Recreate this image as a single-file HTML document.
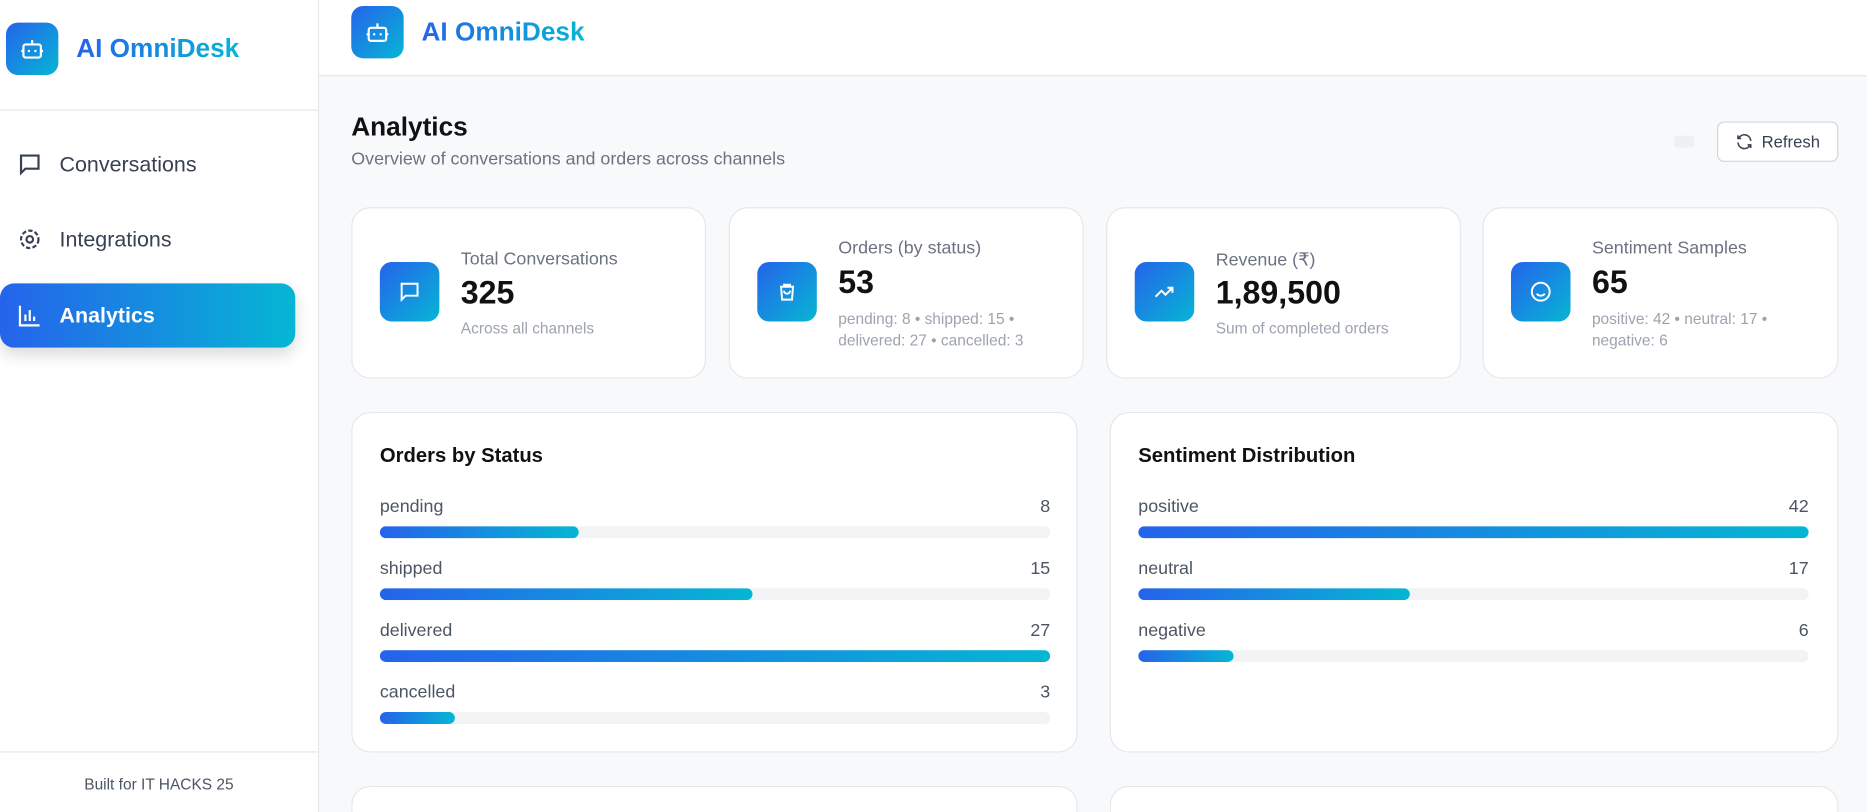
<!DOCTYPE html>
<html><head><meta charset="utf-8">
<style>
*{box-sizing:border-box;margin:0;padding:0}
html,body{width:1867px;height:812px;overflow:hidden;background:#f8f9fb;font-family:"Liberation Sans",sans-serif}
#wrap{position:absolute;left:0;top:0;width:1568px;height:682px;overflow:hidden;transform:scale(1.19069);transform-origin:0 0;background:#f8f9fb}
.abs{position:absolute}
.grad{background:linear-gradient(90deg,#2563eb,#06b6d4)}
.gtext{background:linear-gradient(90deg,#2563eb,#06b6d4);-webkit-background-clip:text;background-clip:text;color:transparent;font-weight:bold;font-size:22px}
.logo{width:44px;height:44px;border-radius:10px;background:linear-gradient(135deg,#2563eb,#06b6d4);display:flex;align-items:center;justify-content:center}
.nav{position:absolute;left:0;width:248px;height:54px;display:flex;align-items:center;font-size:18px;color:#374151}
.nav svg{margin:0 14px 0 14px}
.card{position:absolute;background:#fff;border:1px solid #e5e7eb;border-radius:16px}
.sicon{position:absolute;left:23px;top:45px;width:50px;height:50px;border-radius:10px;background:linear-gradient(135deg,#2563eb,#06b6d4);display:flex;align-items:center;justify-content:center}
.lab{position:absolute;left:91px;font-size:15px;color:#6b7280}
.val{position:absolute;left:91px;font-size:27px;font-weight:bold;color:#111}
.sub{position:absolute;left:91px;font-size:13px;color:#9ca3af;line-height:18px}
.ctitle{position:absolute;left:23px;top:26px;font-size:17px;font-weight:bold;color:#111}
.row{position:absolute;left:23px;width:563px;height:40px}
.row .rl{position:absolute;left:0;top:0;font-size:15px;color:#4b5563}
.row .rv{position:absolute;right:0;top:0;font-size:15px;color:#4b5563}
.row .track{position:absolute;left:0;top:25px;width:100%;height:10px;border-radius:5px;background:#f1f3f5;overflow:hidden}
.row .fill{height:100%;border-radius:5px;background:linear-gradient(90deg,#2563eb,#06b6d4)}
</style></head><body>
<div id="wrap">
<div class="abs" style="left:0;top:0;width:268px;height:682px;background:#fff;border-right:1px solid #e5e7eb">
  <div class="abs logo" style="left:5px;top:19px"><svg width="22" height="22" viewBox="0 0 24 24" fill="none" stroke="#fff" stroke-width="2"><rect x="4" y="8" width="16" height="12" rx="2"/><path d="M12 8V4M9 13v2M15 13v2M2 14h2M20 14h2"/></svg></div>
  <div class="abs gtext" style="left:64px;top:28px">AI OmniDesk</div>
  <div class="abs" style="left:0;top:92px;width:267px;height:1px;background:#e5e7eb"></div>
  <div class="nav" style="top:111px"><svg width="22" height="22" viewBox="0 0 24 24" fill="none" stroke="#374151" stroke-width="2"><path d="M4 4h16v12H8l-4 4z"/></svg>Conversations</div>
  <div class="nav" style="top:174px"><svg width="22" height="22" viewBox="0 0 24 24" fill="none" stroke="#374151" stroke-width="2"><circle cx="12" cy="12" r="3"/><circle cx="12" cy="12" r="8" stroke-dasharray="4 2"/></svg>Integrations</div>
  <div class="nav grad" style="top:238px;color:#fff;font-weight:bold;border-radius:12px;box-shadow:0 6px 14px rgba(0,0,0,.15)"><svg width="22" height="22" viewBox="0 0 24 24" fill="none" stroke="#fff" stroke-width="2"><path d="M3 3v18h18M8 17v-6M12 17V7M16 17v-4"/></svg>Analytics</div>
  <div class="abs" style="left:0;top:631px;width:267px;height:1px;background:#e5e7eb"></div>
  <div class="abs" style="left:0;top:651px;width:267px;text-align:center;font-size:13px;color:#4b5563">Built for IT HACKS 25</div>
</div>
<div class="abs" style="left:268px;top:0;width:1300px;height:64px;background:#fff;border-bottom:1px solid #e5e7eb">
  <div class="abs logo" style="left:27px;top:5px"><svg width="22" height="22" viewBox="0 0 24 24" fill="none" stroke="#fff" stroke-width="2"><rect x="4" y="8" width="16" height="12" rx="2"/><path d="M12 8V4M9 13v2M15 13v2M2 14h2M20 14h2"/></svg></div>
  <div class="abs gtext" style="left:86px;top:14px">AI OmniDesk</div>
</div>
<div class="abs" style="left:295px;top:94px;font-size:22px;font-weight:bold;color:#111">Analytics</div>
<div class="abs" style="left:295px;top:125px;font-size:15px;color:#6b7280">Overview of conversations and orders across channels</div>
<div class="abs" style="left:1406px;top:114px;width:17px;height:10px;background:#eef0f3;border-radius:3px"></div>
<div class="abs" style="left:1442px;top:102px;width:102px;height:34px;background:#fff;border:1px solid #d1d5db;border-radius:6px;display:flex;align-items:center;justify-content:center;font-size:14px;color:#374151"><svg width="16" height="16" viewBox="0 0 24 24" fill="none" stroke="#374151" stroke-width="2" style="margin-right:6px"><path d="M20 11a8 8 0 0 0-14-5l-2 2M4 4v4h4M4 13a8 8 0 0 0 14 5l2-2M20 20v-4h-4"/></svg>Refresh</div>

<div class="card" style="left:295px;top:174px;width:298px;height:144px">
  <div class="sicon"><svg width="20" height="20" viewBox="0 0 24 24" fill="none" stroke="#fff" stroke-width="2"><path d="M4 4h16v12H8l-4 4z"/></svg></div>
  <div class="lab" style="top:34px">Total Conversations</div><div class="val" style="top:56px">325</div><div class="sub" style="top:92px">Across all channels</div>
</div>
<div class="card" style="left:612px;top:174px;width:298px;height:144px">
  <div class="sicon"><svg width="20" height="20" viewBox="0 0 24 24" fill="none" stroke="#fff" stroke-width="2"><path d="M6 7h12l-1 13H7zM9 7V5h6v2M9 11a3 3 0 0 0 6 0"/></svg></div>
  <div class="lab" style="top:25px">Orders (by status)</div><div class="val" style="top:47px">53</div><div class="sub" style="top:84px">pending: 8 • shipped: 15 •<br>delivered: 27 • cancelled: 3</div>
</div>
<div class="card" style="left:929px;top:174px;width:298px;height:144px">
  <div class="sicon"><svg width="20" height="20" viewBox="0 0 24 24" fill="none" stroke="#fff" stroke-width="2"><path d="M3 17l6-6 4 4 7-7M15 8h5v5"/></svg></div>
  <div class="lab" style="top:34px">Revenue (₹)</div><div class="val" style="top:56px">1,89,500</div><div class="sub" style="top:92px">Sum of completed orders</div>
</div>
<div class="card" style="left:1245px;top:174px;width:299px;height:144px">
  <div class="sicon"><svg width="20" height="20" viewBox="0 0 24 24" fill="none" stroke="#fff" stroke-width="2"><circle cx="12" cy="12" r="9"/><path d="M8 14a5 5 0 0 0 8 0M9 9h.01M15 9h.01"/></svg></div>
  <div class="lab" style="top:25px">Sentiment Samples</div><div class="val" style="top:47px">65</div><div class="sub" style="top:84px">positive: 42 • neutral: 17 •<br>negative: 6</div>
</div>

<div class="card" id="orders-card" style="left:295px;top:346px;width:610px;height:286px"><div class="ctitle">Orders by Status</div></div>
<div class="card" id="sent-card" style="left:932px;top:346px;width:612px;height:286px"><div class="ctitle">Sentiment Distribution</div></div>
<div class="card" style="left:295px;top:660px;width:610px;height:22px;border-bottom:none;border-radius:16px 16px 0 0"></div>
<div class="card" style="left:932px;top:660px;width:612px;height:22px;border-bottom:none;border-radius:16px 16px 0 0"></div>
</div>
<script>
const orderCategories=["pending","shipped","delivered","cancelled"];
const orderValues=[8,15,27,3];
const sentimentCategories=["positive","neutral","negative"];
const sentimentValues=[42,17,6];
function draw(cardId,cats,vals,prefix){
  const card=document.getElementById(cardId);
  const max=Math.max(...vals);
  cats.forEach((c,i)=>{
    const row=document.createElement('div');
    row.className='row';
    row.style.top=(70+i*52)+'px';
    
    
    const l=document.createElement('div');l.className='rl';l.textContent=c;
    
    
    const v=document.createElement('div');v.className='rv';v.textContent=vals[i];
    
    
    const t=document.createElement('div');t.className='track';
    
    
    const f=document.createElement('div');f.className='fill';f.style.width=(vals[i]/max*100)+'%';
    
    
    t.appendChild(f);row.appendChild(l);row.appendChild(v);row.appendChild(t);card.appendChild(row);
  });
}
draw('orders-card',orderCategories,orderValues,'orders');
draw('sent-card',sentimentCategories,sentimentValues,'sentiment');
</script>
</body></html>
